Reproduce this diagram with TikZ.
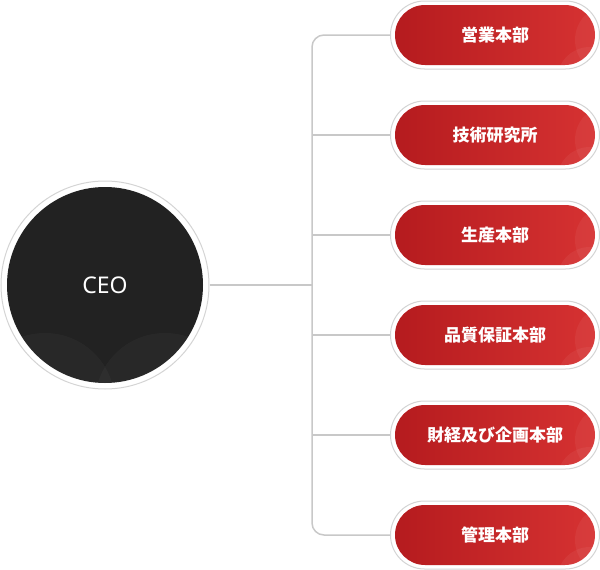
\documentclass[tikz,border=0pt]{standalone}
\usepackage{fontspec}
\setmainfont{Noto Sans}
\newfontfamily\jpfont{Noto Sans CJK JP}
\usepackage{tikz}
\usetikzlibrary{shapes.misc,calc}

\definecolor{orgdark}{RGB}{34,34,34}
\definecolor{orgred}{RGB}{181,27,30}
\definecolor{orgredlt}{RGB}{214,50,50}
\definecolor{orgring}{RGB}{212,212,212}
\definecolor{orgline}{RGB}{200,200,200}

\tikzset{
  ring/.style={draw=orgring, line width=1pt, fill=white},
  deptring/.style={ring, rounded rectangle, minimum width=209pt, minimum height=68pt, inner sep=0pt},
  dept/.style={rounded rectangle, minimum width=200pt, minimum height=60pt, inner sep=0pt,
    left color=orgred, right color=orgredlt, text=white, font=\jpfont\bfseries\fontsize{17}{17}\selectfont,
    path picture={
      \fill[white, opacity=0.05] ($(path picture bounding box.east)+(15pt,-5pt)$) circle (35pt);
      \fill[white, opacity=0.05] ($(path picture bounding box.south east)+(-5pt,-15pt)$) circle (33pt);
    }},
  link/.style={draw=orgline, line width=1.5pt}
}

\begin{document}
\begin{tikzpicture}[x=1pt, y=-1pt]
  \useasboundingbox (0,0) rectangle (600,570);

  % CEO circle
  \node[ring, circle, minimum size=208pt, inner sep=0pt] (ceoring) at (105,285) {};
  \node[circle, fill=orgdark, minimum size=196pt, inner sep=0pt, text=white,
    font=\fontsize{23}{23}\selectfont,
    path picture={
      \fill[white, opacity=0.03] ($(path picture bounding box.south)+(-60pt,-20pt)$) circle (70pt);
      \fill[white, opacity=0.03] ($(path picture bounding box.south)+(60pt,-20pt)$) circle (70pt);
    }] (ceo) at (105,285) {CEO};

  % Departments
  \node[deptring] (r1) at (495,35) {};
  \node[dept] (d1) at (495,35) {営業本部};

  \node[deptring] (r2) at (495,135) {};
  \node[dept] (d2) at (495,135) {技術研究所};

  \node[deptring] (r3) at (495,235) {};
  \node[dept] (d3) at (495,235) {生産本部};

  \node[deptring] (r4) at (495,335) {};
  \node[dept] (d4) at (495,335) {品質保証本部};

  \node[deptring] (r5) at (495,435) {};
  \node[dept] (d5) at (495,435) {財経及び企画本部};

  \node[deptring] (r6) at (495,535) {};
  \node[dept] (d6) at (495,535) {管理本部};

  % Connectors
  \coordinate (trunk) at (312,285);
  \draw[link] (ceoring.east) -- (trunk);
  \draw[link, rounded corners=12pt] (r1.west) -- (r1.west -| trunk) -- (r6.west -| trunk) -- (r6.west);
  \draw[link] (r2.west -| trunk) -- (r2.west);
  \draw[link] (r3.west -| trunk) -- (r3.west);
  \draw[link] (r4.west -| trunk) -- (r4.west);
  \draw[link] (r5.west -| trunk) -- (r5.west);
\end{tikzpicture}
\end{document}
